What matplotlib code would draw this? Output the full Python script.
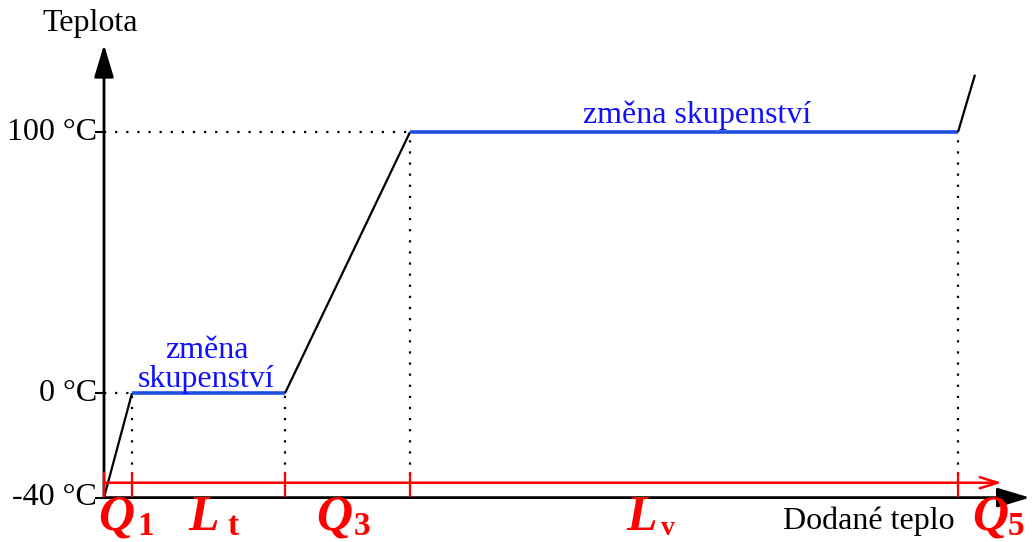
"""Heating curve of water: temperature vs supplied heat (schematic)."""
import matplotlib

matplotlib.use("Agg")
import matplotlib.pyplot as plt

plt.rcParams["font.family"] = ["Liberation Serif", "DejaVu Serif"]

# cumulative supplied heat (arbitrary units) and temperature at each break point
heat = [0, 28, 181, 306, 854, 871]
temp = [-40, 0, 0, 100, 100, 122]
segment_phase = ["heat", "melt", "heat", "boil", "heat"]

temp_ticks = [-40, 0, 100]
temp_labels = ["-40 °C", "0 °C", "100 °C"]

# red labels under the heat axis: (main letter, subscript)
heat_labels = [("Q", "1"), ("L", "t"), ("Q", "3"), ("L", "v"), ("Q", "5")]

BLUE_LINE = "#1f4fe0"
BLUE_TEXT = "#1010ff"
RED = "#ff0000"
FS = 23

fig = plt.figure(figsize=(10.33, 5.42), dpi=100)
ax = fig.add_axes([0, 0, 1, 1])
ax.set_xlim(-104, 929)
ax.set_ylim(-57.0, 150.6)
ax.axis("off")

t0 = temp[0]

# axes with arrows
big_head = "-|>,head_length=2.0,head_width=0.6"
ax.annotate("", xy=(926, t0), xytext=(0, t0),
            arrowprops=dict(arrowstyle=big_head, color="black", lw=2,
                            shrinkA=0, shrinkB=0))
ax.annotate("", xy=(0, 133.5), xytext=(0, t0),
            arrowprops=dict(arrowstyle=big_head, color="black", lw=2,
                            shrinkA=0, shrinkB=0))
ax.text(-14, 141.5, "Teplota", fontsize=FS, ha="center", va="center")
ax.text(955 - 104, -49.2, "Dodané teplo", fontsize=FS, ha="right", va="center")

# temperature ticks
for t, lab in zip(temp_ticks, temp_labels):
    ax.plot([-8, 0], [t, t], color="black", lw=1.5)
    ax.text(-7, t, lab, fontsize=FS, ha="right", va="center")

# dotted guide lines
dots = dict(color="black", lw=1.6, linestyle=(0, (1, 4)))
ax.plot([0, heat[1]], [temp[1], temp[1]], **dots)
ax.plot([0, heat[3]], [temp[3], temp[3]], **dots)
for h, t in zip(heat[1:5], temp[1:5]):
    ax.plot([h, h], [t0, t], **dots)

# heating curve
for i, phase in enumerate(segment_phase):
    color = "black" if phase == "heat" else BLUE_LINE
    lw = 1.6 if phase == "heat" else 2.6
    ax.plot(heat[i:i + 2], temp[i:i + 2], color=color, lw=lw, solid_capstyle="butt", zorder=3)

ax.text((heat[1] + heat[2]) / 2 - 2, 10.8, "změna\nskupenství", fontsize=FS,
        color=BLUE_TEXT, ha="center", va="center", linespacing=1.0)
ax.text((heat[3] + heat[4]) / 2 + 13, 106.5, "změna skupenství", fontsize=FS,
        color=BLUE_TEXT, ha="center", va="center")

# red heat-interval axis
red_t = -34.3
ax.annotate("", xy=(898, red_t), xytext=(0, red_t),
            arrowprops=dict(arrowstyle="->,head_length=1.3,head_width=0.4",
                            color=RED, lw=1.8, shrinkA=0, shrinkB=0))
for h in heat[:5]:
    ax.plot([h, h], [-39.3, -30.6], color=RED, lw=1.6, zorder=4)

# red labels, centred in each interval
label_x = [-6, 84, 212, 522, 868]
sub_dx = [39, 39, 38, 35, 36]
sub_size = [24, 24, 24, 20, 24]
for (main, sub), x, dx, ss in zip(heat_labels, label_x, sub_dx, sub_size):
    ax.text(x, -52.4, main, fontsize=36, color=RED, fontweight="bold",
            style="italic", ha="left", va="baseline")
    ax.text(x + dx, -54.4, sub, fontsize=ss, color=RED, fontweight="bold",
            ha="left", va="baseline")

fig.savefig("out.png", dpi=100)
